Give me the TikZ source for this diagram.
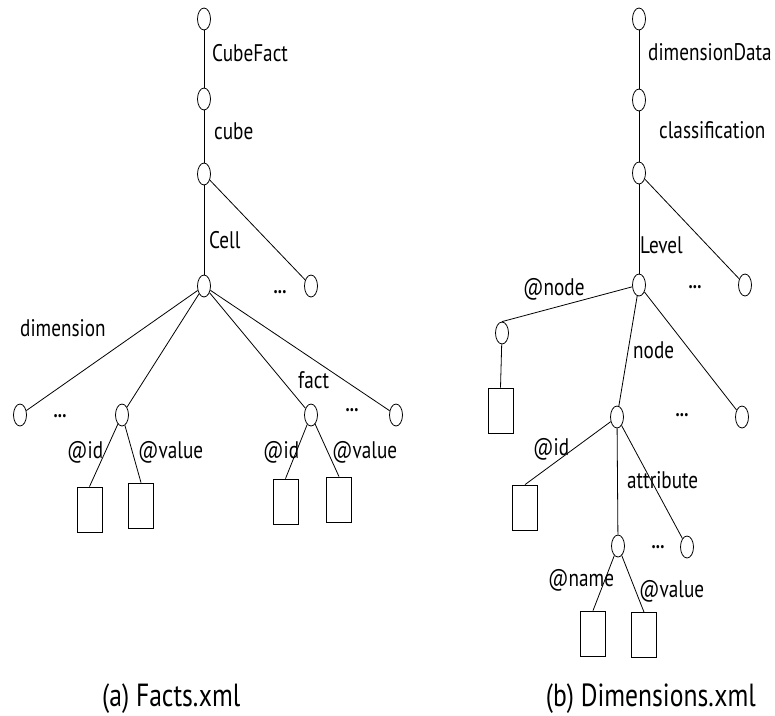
\documentclass[tikz,border=0pt]{standalone}
\usepackage{fontspec}
\setmainfont{PT Sans}[FakeStretch=0.8]
\usetikzlibrary{shapes.geometric}
\begin{document}
\begin{tikzpicture}[x=1pt,y=-1pt,
  el/.style={draw,ellipse,line width=0.8pt,minimum width=13pt,minimum height=22pt,inner sep=0pt},
  bx/.style={draw,rectangle,line width=0.8pt,minimum width=25pt,minimum height=45pt,inner sep=0pt},
  lab/.style={anchor=base west,inner sep=0pt,font=\fontsize{24}{28}\selectfont},
  captext/.style={inner sep=0pt,font=\fontsize{32}{36}\selectfont},
  dots/.style={inner sep=0pt,font=\fontsize{21}{24}\selectfont\bfseries},
  edge/.style={line width=0.8pt}]
\useasboundingbox (0,0) rectangle (775,715);
% ---------- left tree ----------
\node[el] (a1) at (204,19) {};
\node[el] (a2) at (204,99) {};
\node[el] (a3) at (204,174) {};
\node[el] (a4) at (204,286) {};
\node[el] (a5) at (311,286) {};
\node[el] (a6) at (20,415) {};
\node[el] (a7) at (122,415) {};
\node[el] (a8) at (311,415) {};
\node[el] (a9) at (396,415) {};
\node[bx] (ab1) at (89.5,509.5) {};
\node[bx] (ab2) at (141,505.5) {};
\node[bx] (ab3) at (285.5,501.5) {};
\node[bx] (ab4) at (339,499.5) {};
\draw[edge] (a1) -- (a2);
\draw[edge] (a2) -- (a3);
\draw[edge] (a3) -- (a4);
\draw[edge] (a3) -- (a5);
\draw[edge] (a4) -- (a6);
\draw[edge] (a4) -- (a7);
\draw[edge] (a4) -- (a8);
\draw[edge] (a4) -- (a9);
\draw[edge] (a7) -- (ab1.north);
\draw[edge] (a7) -- (ab2.north);
\draw[edge] (a8) -- (ab3.north);
\draw[edge] (a8) -- (ab4.north);
\node[lab] (tCubeFact) at (212,61) {CubeFact};
\node[lab] (tcube) at (214,139) {cube};
\node[lab] (tCell) at (209,248) {Cell};
\node[lab] (tdim) at (20,336) {dimension};
\node[lab] (tfact) at (298,388) {fact};
\node[lab] (tid1) at (67,458) {@id};
\node[lab] (tval1) at (138,458) {@value};
\node[lab] (tid2) at (263,458) {@id};
\node[lab] (tval2) at (332,458) {@value};
\node[dots] (d1) at (280,292) {...};
\node[dots] (d2) at (60,416) {...};
\node[dots] (d3) at (352,410) {...};
\node[captext,anchor=base west] (capa) at (102,706) {(a) Facts.xml};
% ---------- right tree ----------
\node[el] (b1) at (639,19) {};
\node[el] (b2) at (639,100) {};
\node[el] (b3) at (639,173) {};
\node[el] (b4) at (639,285) {};
\node[el] (b5) at (745,285) {};
\node[el] (b6) at (502,333) {};
\node[el] (b7) at (617,417) {};
\node[el] (b8) at (742,417) {};
\node[el] (b9) at (618,546) {};
\node[el] (b10) at (687,547) {};
\node[bx] (bb1) at (500.5,410.5) {};
\node[bx] (bb2) at (525,507.5) {};
\node[bx] (bb3) at (593,633.5) {};
\node[bx] (bb4) at (644,635) {};
\draw[edge] (b1) -- (b2);
\draw[edge] (b2) -- (b3);
\draw[edge] (b3) -- (b4);
\draw[edge] (b3) -- (b5);
\draw[edge] (b4) -- (b6.north);
\draw[edge] (b4) -- (b7);
\draw[edge] (b4) -- (b8);
\draw[edge] (b6) -- (bb1.north);
\draw[edge] (b7) -- (bb2.north);
\draw[edge] (b7) -- (b9);
\draw[edge] (b7) -- (b10);
\draw[edge] (b9) -- (bb3.north);
\draw[edge] (b9) -- (bb4.north);
\node[lab] (tdd) at (648,60) {dimensionData};
\node[lab] (tcls) at (659,138) {classification};
\node[lab] (tlev) at (640,253) {Level};
\node[lab] (tnode1) at (523,295) {@node};
\node[lab] (tnode2) at (633,358) {node};
\node[lab] (tid3) at (533,455) {@id};
\node[lab] (tattr) at (627,488) {attribute};
\node[lab] (tname) at (548,586) {@name};
\node[lab] (tval3) at (639,597) {@value};
\node[dots] (d4) at (695,287) {...};
\node[dots] (d5) at (682,415) {...};
\node[dots] (d6) at (658,547) {...};
\node[captext,anchor=base east] (capb) at (756,706) {(b) Dimensions.xml};
\end{tikzpicture}
\end{document}
